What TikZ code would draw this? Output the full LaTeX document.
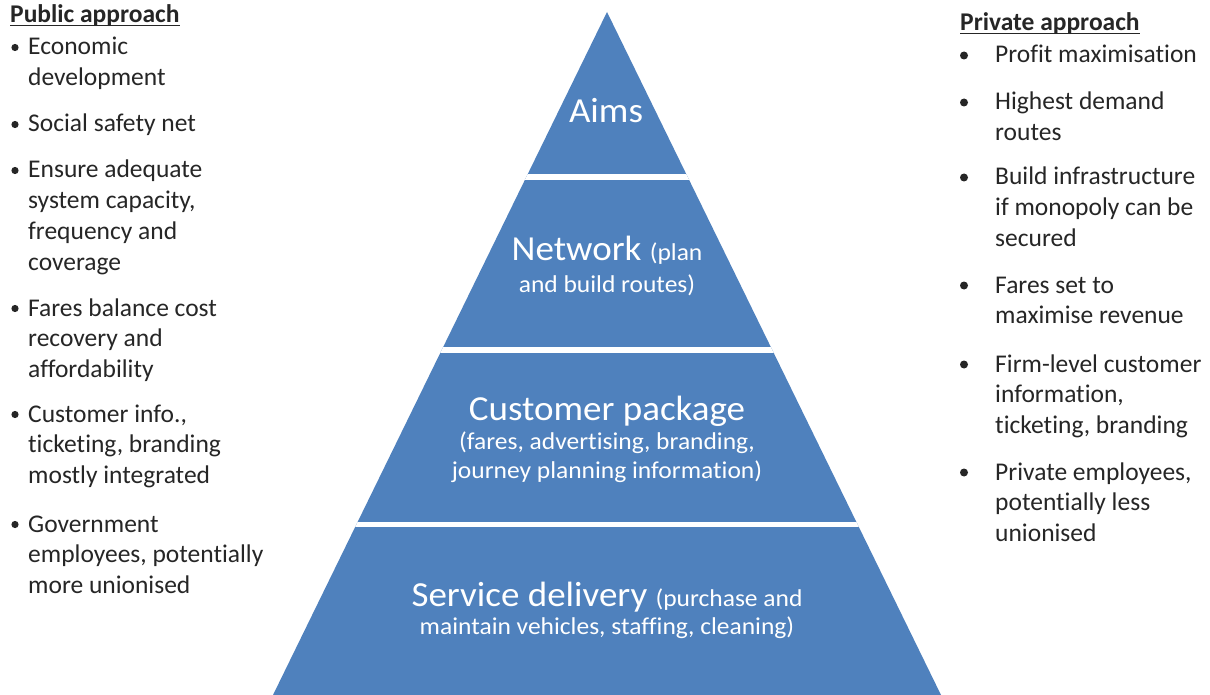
\documentclass[tikz,border=0pt]{standalone}
\usepackage{fontspec}
\setmainfont{Carlito}[Ligatures=NoCommon]
\definecolor{pyrblue}{HTML}{4F81BD}
\definecolor{sidetext}{HTML}{262626}
\newcommand\pyrsq[1]{\scalebox{1}[0.95]{#1}}
\newcommand\pyrbig{\fontsize{37}{40}\selectfont}
\newcommand\pyrsmall{\fontsize{25.5}{28}\selectfont}
\begin{document}
\begin{tikzpicture}[x=1pt,y=-1pt,
  side/.style={anchor=base west, inner sep=0pt, text=sidetext, font=\fontsize{25.5}{30}\selectfont},
  sidetitle/.style={side, font=\bfseries\fontsize{25.5}{30}\selectfont},
  pyrtext/.style={anchor=base, inner sep=0pt, text=white},
  bulletdot/.style={fill=sidetext},
  divider/.style={draw=white, line width=5.5pt}]
\useasboundingbox[fill=white] (0,0) rectangle (1210,695);

% pyramid
\coordinate (apex) at (607,12);
\coordinate (bl) at (273,695);
\coordinate (br) at (941,695);
\fill[pyrblue] (apex) -- (br) -- (bl) -- cycle;
\begin{scope}
  \clip (apex) -- (br) -- (bl) -- cycle;
  \draw[divider] (250,177) -- (960,177);
  \draw[divider] (250,350) -- (960,350);
  \draw[divider] (250,524.5) -- (960,524.5);
\end{scope}

\node[pyrtext] (aims) at (606,123) {\pyrsq{\pyrbig Aims}};
\node[pyrtext] (net1) at (607,261) {\pyrsq{\pyrbig Network \pyrsmall(plan}};
\node[pyrtext] (net2) at (607,292) {\pyrsq{\pyrsmall and build routes)}};
\node[pyrtext] (cust1) at (607,420) {\pyrsq{\pyrbig Customer package}};
\node[pyrtext] (cust2) at (607,449) {\pyrsq{\pyrsmall (fares, advertising, branding,}};
\node[pyrtext] (cust3) at (607,478) {\pyrsq{\pyrsmall journey planning information)}};
\node[pyrtext] (serv1) at (607,606) {\pyrsq{\pyrbig Service delivery \pyrsmall(purchase and}};
\node[pyrtext] (serv2) at (607,634) {\pyrsq{\pyrsmall maintain vehicles, staffing, cleaning)}};

% left column
\node[sidetitle] (pubt) at (10,23) {Public approach};
\draw[sidetext, line width=1.4pt] ([yshift=-2.5pt]pubt.base west) -- ([yshift=-2.5pt]pubt.base east);
\foreach \yy in {55,132,178,316,422,532}
  \fill[bulletdot] (15,\yy-7.5) circle (3.6);
\foreach \yy/\tt [count=\i] in {55/Economic, 85.8/development, 132/Social safety net,
  178/Ensure adequate, 208.8/{system capacity,}, 239.6/frequency and, 270.4/coverage,
  316/Fares balance cost, 346.8/recovery and, 377.6/affordability,
  422/{Customer info.,}, 452.8/{ticketing, branding}, 483.6/mostly integrated,
  532/Government, 562.8/{employees, potentially}, 593.6/more unionised}
  \node[side] (L\i) at (28,\yy) {\tt};

% right column
\node[sidetitle] (privt) at (960,31) {Private approach};
\draw[sidetext, line width=1.4pt] ([yshift=-2.5pt]privt.base west) -- ([yshift=-2.5pt]privt.base east);
\foreach \yy in {63,110,185,293,372,480}
  \fill[bulletdot] (964,\yy-7.5) circle (4);
\foreach \yy/\tt [count=\i] in {63/Profit maximisation, 110/Highest demand, 140.8/routes,
  185/Build infrastructure, 215.8/if monopoly can be, 246.6/secured,
  293/Fares set to, 323.8/maximise revenue,
  372/Firm-level customer, 402.8/{information,}, 433.6/{ticketing, branding},
  480/{Private employees,}, 510.8/potentially less, 541.6/unionised}
  \node[side] (R\i) at (995,\yy) {\tt};
\end{tikzpicture}
\end{document}
